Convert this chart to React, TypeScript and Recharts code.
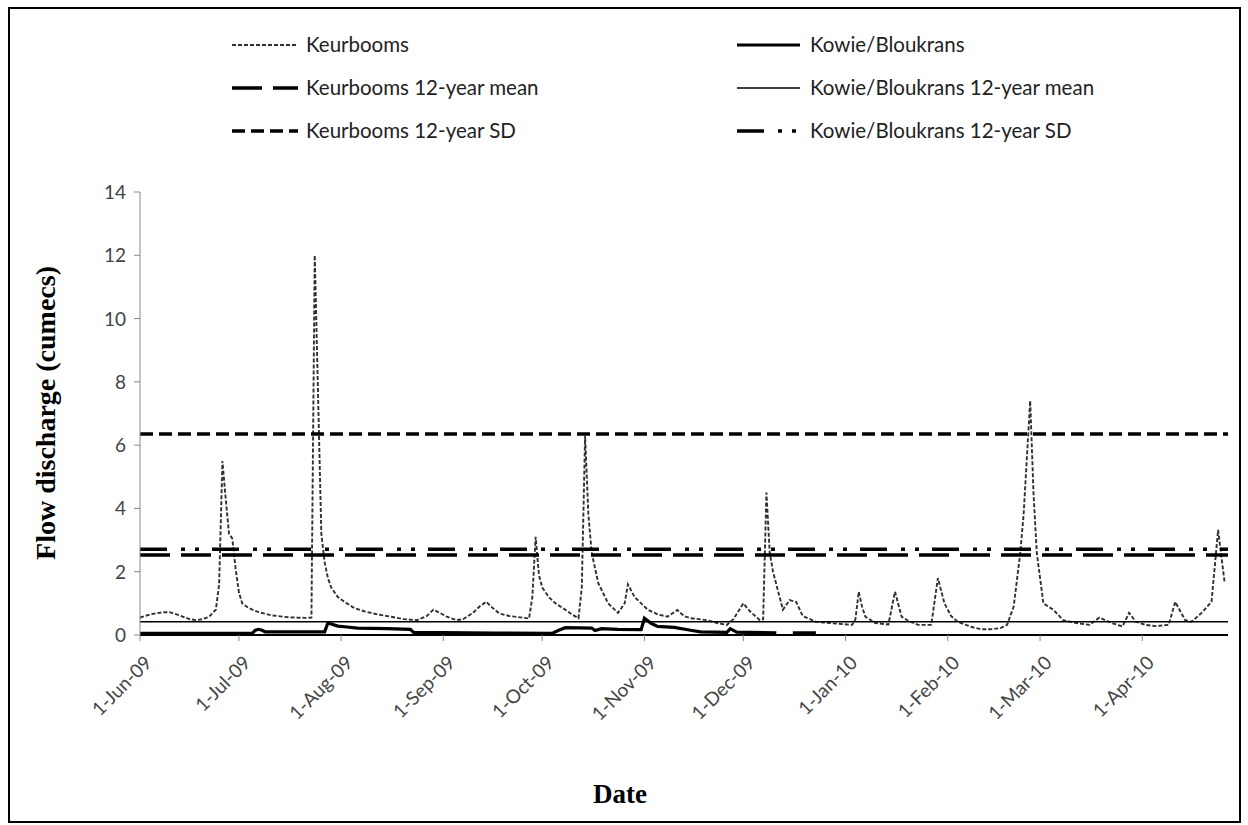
import React from 'react';
import { LineChart, Line, XAxis, YAxis, ReferenceLine } from 'recharts';

// days since 1-Jun-2009
const tickDays = [0, 30, 61, 92, 122, 153, 183, 214, 245, 273, 304];
const tickLabels = ['1-Jun-09', '1-Jul-09', '1-Aug-09', '1-Sep-09', '1-Oct-09', '1-Nov-09', '1-Dec-09', '1-Jan-10', '1-Feb-10', '1-Mar-10', '1-Apr-10'];
const yTicks = [0, 2, 4, 6, 8, 10, 12, 14];

const keurDays = [0, 3, 7, 9, 12, 15, 17, 19, 21, 23, 24, 25, 26, 27, 28, 29, 30, 31, 33, 36, 40, 45, 50, 52, 53, 54, 55, 56, 57, 58, 60, 62, 65, 68, 72, 76, 80, 84, 87, 89, 91, 93, 96, 98, 101, 103, 105, 107, 109, 112, 116, 118, 119, 120, 121, 122, 124, 126, 129, 131, 133, 134, 135, 136, 137, 139, 142, 145, 147, 148, 150, 152, 154, 157, 160, 163, 165, 167, 172, 175, 178, 180, 183, 185, 188, 189, 190, 191, 192, 194, 195, 197, 199, 201, 205, 210, 216, 217, 218, 219, 220, 223, 227, 229, 231, 233, 236, 240, 242, 244, 246, 248, 252, 255, 258, 261, 263, 265, 267, 268, 270, 271, 272, 274, 277, 280, 284, 288, 291, 295, 298, 300, 302, 305, 308, 312, 314, 317, 319, 322, 325, 327, 329];
const keurFlow = [0.55, 0.65, 0.72, 0.72, 0.62, 0.5, 0.47, 0.5, 0.58, 0.8, 1.6, 5.5, 4.3, 3.2, 3.05, 2.1, 1.35, 1.0, 0.85, 0.72, 0.62, 0.56, 0.54, 0.55, 12.0, 7.6, 3.2, 2.3, 1.8, 1.5, 1.2, 1.05, 0.85, 0.75, 0.65, 0.58, 0.5, 0.47, 0.6, 0.8, 0.7, 0.58, 0.47, 0.5, 0.7, 0.9, 1.05, 0.85, 0.68, 0.6, 0.55, 0.52, 1.2, 3.1, 1.9, 1.5, 1.2, 1.0, 0.8, 0.65, 0.53, 1.5, 6.3, 3.8, 2.6, 1.64, 1.0, 0.7, 1.0, 1.6, 1.2, 1.0, 0.8, 0.65, 0.58, 0.79, 0.6, 0.53, 0.47, 0.38, 0.32, 0.5, 1.0, 0.75, 0.47, 0.5, 4.5, 2.6, 2.0, 1.2, 0.8, 1.1, 1.05, 0.6, 0.42, 0.37, 0.32, 0.5, 1.37, 0.9, 0.58, 0.38, 0.33, 1.37, 0.58, 0.45, 0.32, 0.32, 1.8, 1.0, 0.6, 0.42, 0.26, 0.18, 0.18, 0.22, 0.32, 0.9, 2.6, 3.8, 7.4, 4.5, 2.6, 1.0, 0.8, 0.47, 0.38, 0.32, 0.55, 0.37, 0.27, 0.7, 0.42, 0.32, 0.28, 0.32, 1.05, 0.47, 0.42, 0.7, 1.05, 3.32, 1.64];

const kowieDays = [0, 34, 35, 36, 37, 38, 56, 57, 58, 60, 62, 66, 75, 82, 83, 108, 125, 127, 129, 137, 138, 140, 145, 152, 153, 154, 155, 157, 162, 167, 170, 178, 179, 181, 193, 194, 197, 198, 205];
const kowieFlow: (number | null)[] = [0.05, 0.05, 0.15, 0.18, 0.15, 0.1, 0.1, 0.38, 0.35, 0.28, 0.26, 0.22, 0.2, 0.18, 0.08, 0.06, 0.05, 0.15, 0.23, 0.22, 0.14, 0.2, 0.18, 0.17, 0.53, 0.45, 0.37, 0.27, 0.24, 0.15, 0.1, 0.08, 0.2, 0.09, 0.07, null, null, 0.07, 0.07];

const keurMean = 2.53;
const keurSD = 6.35;
const kowieMean = 0.42;
const kowieSD = 2.71;

const keurData = keurDays.map((d, i) => ({ day: d, v: keurFlow[i] }));
const kowieData = kowieDays.map((d, i) => ({ day: d, v: kowieFlow[i] }));

const STY = {
  keur: { stroke: '#303030', width: 1.9, dash: '4 2' },
  kowie: { stroke: '#000', width: 3.2, dash: undefined as string | undefined },
  keurMean: { stroke: '#000', width: 3.5, dash: '30 11' },
  kowieMean: { stroke: '#000', width: 1.5, dash: undefined as string | undefined },
  keurSD: { stroke: '#000', width: 3.5, dash: '13 6' },
  kowieSD: { stroke: '#000', width: 3.5, dash: '27 14 4 10 4 13' },
};

const legendItems = [
  { label: 'Keurbooms', s: STY.keur, col: 0, row: 0 },
  { label: 'Kowie/Bloukrans', s: STY.kowie, col: 1, row: 0 },
  { label: 'Keurbooms 12-year mean', s: STY.keurMean, col: 0, row: 1 },
  { label: 'Kowie/Bloukrans 12-year mean', s: STY.kowieMean, col: 1, row: 1 },
  { label: 'Keurbooms 12-year SD', s: STY.keurSD, col: 0, row: 2 },
  { label: 'Kowie/Bloukrans 12-year SD', s: STY.kowieSD, col: 1, row: 2 },
];

const FONT = 'Lato, "Open Sans", sans-serif';
const SERIF = '"Liberation Serif", "Times New Roman", serif';

const XTick = (props: any) => {
  const { x, payload } = props;
  const i = tickDays.indexOf(payload.value);
  const px = x + 13;
  const py = 664;
  return (
    <text x={px} y={py} transform={`rotate(-45 ${px} ${py})`} textAnchor="end" fontFamily={FONT} fontSize={19} fill="#444">
      {i >= 0 ? tickLabels[i] : ''}
    </text>
  );
};

const YTick = (props: any) => {
  const { y, payload } = props;
  return (
    <text x={126} y={y} dy={7} textAnchor="end" fontFamily={FONT} fontSize={19} fill="#444">
      {payload.value}
    </text>
  );
};

export default function App() {
  const legendRowY = [45, 88, 131];
  const colSample = [[232, 298], [737, 800]];
  const colText = [306, 810];
  return (
    <div style={{ position: 'fixed', left: 0, top: 0, width: 1248, height: 825, background: '#fff', overflow: 'hidden' }}>
      <div style={{ position: 'absolute', left: 0, top: 0 }}>
        <LineChart width={1248} height={825} margin={{ top: 192, right: 20, bottom: 90, left: 80 }}>
          <XAxis
            type="number"
            dataKey="day"
            domain={[0, 330]}
            ticks={tickDays}
            interval={0}
            height={100}
            axisLine={{ stroke: '#000', strokeWidth: 2 }}
            tickLine={{ stroke: '#888' }}
            tickSize={6}
            tick={<XTick />}
            allowDataOverflow
          />
          <YAxis
            type="number"
            domain={[0, 14]}
            ticks={yTicks}
            interval={0}
            width={60}
            axisLine={{ stroke: '#888' }}
            tickLine={{ stroke: '#888' }}
            tickSize={6}
            tick={<YTick />}
          />
          <Line data={keurData} dataKey="v" type="linear" stroke={STY.keur.stroke} strokeWidth={STY.keur.width} strokeDasharray={STY.keur.dash} dot={false} isAnimationActive={false} />
          <Line data={kowieData} dataKey="v" type="linear" stroke={STY.kowie.stroke} strokeWidth={STY.kowie.width} dot={false} isAnimationActive={false} connectNulls={false} />
          <ReferenceLine y={kowieMean} stroke={STY.kowieMean.stroke} strokeWidth={STY.kowieMean.width} />
          <ReferenceLine y={keurMean} stroke={STY.keurMean.stroke} strokeWidth={STY.keurMean.width} strokeDasharray={STY.keurMean.dash} />
          <ReferenceLine y={kowieSD} stroke={STY.kowieSD.stroke} strokeWidth={STY.kowieSD.width} strokeDasharray={STY.kowieSD.dash} />
          <ReferenceLine y={keurSD} stroke={STY.keurSD.stroke} strokeWidth={STY.keurSD.width} strokeDasharray={STY.keurSD.dash} />
        </LineChart>
      </div>
      <svg width={1248} height={825} style={{ position: 'absolute', left: 0, top: 0, pointerEvents: 'none' }}>
        {legendItems.map((it, k) => {
          const y = legendRowY[it.row];
          const [x1, x2] = colSample[it.col];
          return (
            <g key={k}>
              <line x1={x1} x2={x2} y1={y} y2={y} stroke={it.s.stroke} strokeWidth={it.s.width} strokeDasharray={it.s.dash} />
              <text x={colText[it.col]} y={y} dy={7} fontFamily={FONT} fontSize={20.5} fill="#222">{it.label}</text>
            </g>
          );
        })}
        <text x={45} y={413} transform="rotate(-90 45 413)" textAnchor="middle" dominantBaseline="central" fontFamily={SERIF} fontWeight="bold" fontSize={28} fill="#000">Flow discharge (cumecs)</text>
        <text x={620} y={803} textAnchor="middle" fontFamily={SERIF} fontWeight="bold" fontSize={27} fill="#000">Date</text>
        <rect x={9} y={8} width={1231} height={814} fill="none" stroke="#000" strokeWidth={2} />
      </svg>
    </div>
  );
}
